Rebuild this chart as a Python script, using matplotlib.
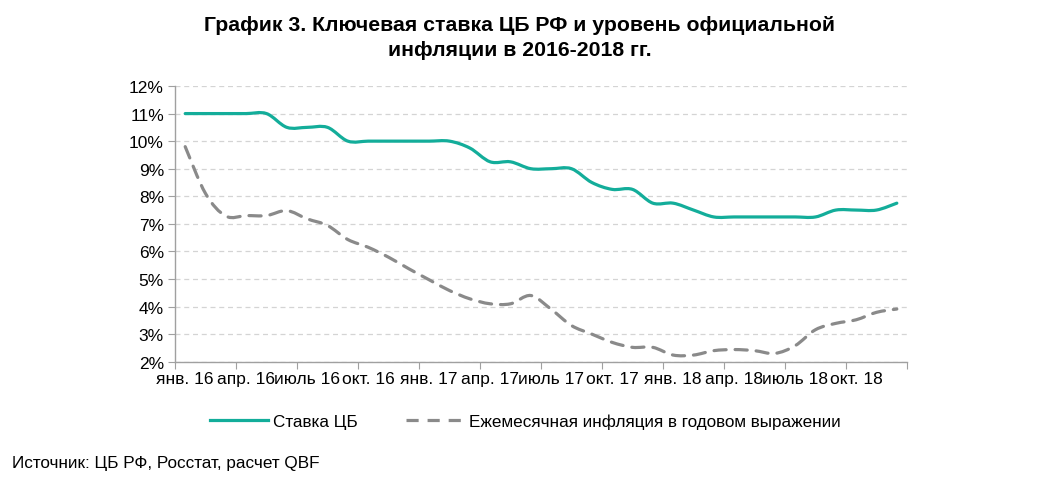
"""
Key rate of the Bank of Russia vs official inflation, 2016-2018.
"""
import numpy as np
import matplotlib.pyplot as plt
from matplotlib.path import Path
from matplotlib.patches import PathPatch
from matplotlib.lines import Line2D
from matplotlib.ticker import FixedLocator, FuncFormatter

plt.rcParams['font.family'] = ['Liberation Sans', 'DejaVu Sans']

# monthly values, Jan 2016 .. Dec 2018
key_rate = [11.0, 11.0, 11.0, 11.0, 11.0, 10.5, 10.5, 10.5, 10.0, 10.0, 10.0, 10.0,
            10.0, 10.0, 9.75, 9.25, 9.25, 9.0, 9.0, 9.0, 8.5, 8.25, 8.25, 7.75,
            7.75, 7.5, 7.25, 7.25, 7.25, 7.25, 7.25, 7.25, 7.5, 7.5, 7.5, 7.75]
inflation = [9.8, 8.1, 7.28, 7.3, 7.3, 7.48, 7.18, 6.94, 6.43, 6.15, 5.79, 5.37,
             4.97, 4.58, 4.28, 4.1, 4.1, 4.4, 3.9, 3.31, 3.0, 2.7, 2.52, 2.52,
             2.24, 2.24, 2.4, 2.44, 2.4, 2.3, 2.58, 3.16, 3.39, 3.52, 3.79, 3.91]
tick_labels = ["янв. 16", "апр. 16", "июль 16", "окт. 16",
               "янв. 17", "апр. 17", "июль 17", "окт. 17",
               "янв. 18", "апр. 18", "июль 18", "окт. 18"]
series_names = ["Ставка ЦБ", "Ежемесячная инфляция в годовом выражении"]

green = "#13ad9a"
grey = "#8a8a8a"


def smooth_path(y):
  # excel-like smoothed line: bezier segments through the data points
  pts = np.column_stack([np.arange(len(y)), y]).astype(float)
  verts = [pts[0]]
  codes = [Path.MOVETO]
  for i in range(len(pts) - 1):
    p0 = pts[max(i - 1, 0)]
    p1 = pts[i]
    p2 = pts[i + 1]
    p3 = pts[min(i + 2, len(pts) - 1)]
    verts += [p1 + (p2 - p0) / 6, p2 - (p3 - p1) / 6, p2]
    codes += [Path.CURVE4] * 3
  return Path(verts, codes)


fig = plt.figure(figsize=(10.4, 4.85), dpi=100)
ax = fig.add_axes([0.1683, 0.2522, 0.7038, 0.5684])

ax.add_patch(PathPatch(smooth_path(key_rate), fill=False, edgecolor=green, lw=2.3,
                       joinstyle='round', capstyle='round'))
ax.add_patch(PathPatch(smooth_path(inflation), fill=False, edgecolor=grey, lw=2.3,
                       linestyle=(0, (3.8, 2.8)), capstyle='round'))

ax.set_xlim(-0.5, len(key_rate) - 0.5)
ax.set_ylim(2, 12)
ax.yaxis.set_major_locator(FixedLocator(np.arange(2, 13, 1)))
ax.yaxis.set_major_formatter(FuncFormatter(lambda v, p: f"{v:.0f}%"))

# tick marks on category boundaries, labels on every 3rd month
ax.xaxis.set_major_locator(FixedLocator(np.arange(-0.5, len(key_rate), 3)))
ax.set_xticklabels([], minor=False)
ax.set_xticks(np.arange(0, len(key_rate), 3), tick_labels, minor=True)
ax.tick_params(axis='x', which='major', length=5, color='#a0a0a0')
ax.tick_params(axis='x', which='minor', length=0, labelsize=12.5, pad=7)
ax.tick_params(axis='y', length=5, color='#a0a0a0', labelsize=12.5, pad=3)

ax.grid(axis='y', color='#d4d4d4', ls=(0, (4, 3)), lw=0.9)
ax.set_axisbelow(True)
for s in ['top', 'right']:
  ax.spines[s].set_visible(False)
for s in ['left', 'bottom']:
  ax.spines[s].set_color('#a0a0a0')
  ax.spines[s].set_linewidth(1.0)

fig.text(0.5, 1 - 16 / 485, "График 3. Ключевая ставка ЦБ РФ и уровень официальной\nинфляции в 2016-2018 гг.",
         ha='center', va='top', fontsize=15.3, fontweight='bold', linespacing=1.38)

handles = [Line2D([], [], color=green, lw=2.3),
           Line2D([], [], color=grey, lw=2.3, dashes=(3.8, 2.8))]
fig.legend(handles, series_names, loc='center', bbox_to_anchor=(0.505, 1 - 422 / 485),
           ncol=2, frameon=False, fontsize=12.3, handlelength=3.4, handletextpad=0.3,
           columnspacing=2.8)

fig.text(12 / 1040, 1 - 464 / 485, "Источник: ЦБ РФ, Росстат, расчет QBF",
         ha='left', va='center', fontsize=12.3)

fig.savefig("out.png", dpi=100)
